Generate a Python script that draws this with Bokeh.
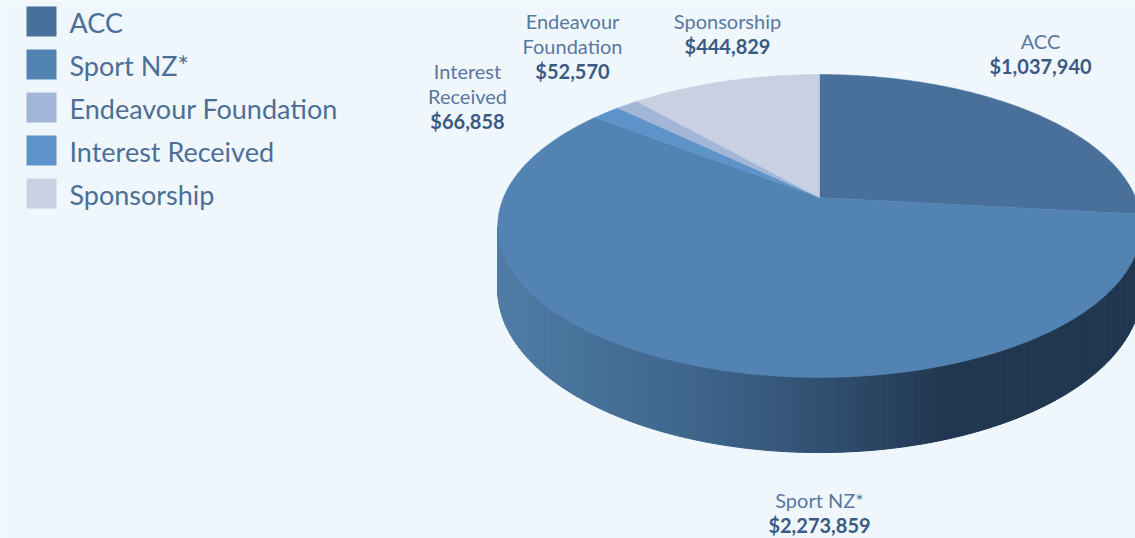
import math
from bokeh.plotting import figure
from bokeh.models import Range1d
from bokeh.embed import file_html
from bokeh.resources import INLINE
from bokeh.core.properties import value

# ---- data ----
categories = ["ACC", "Sport NZ*", "Endeavour Foundation", "Interest Received", "Sponsorship"]
amounts = [1037940, 2273859, 52570, 66858, 444829]
colors = ["#48709a", "#5283b3", "#a3b6d7", "#5d93c8", "#c8d0e2"]
# clockwise order of slices starting at 12 o'clock
slice_order = ["ACC", "Sport NZ*", "Interest Received", "Endeavour Foundation", "Sponsorship"]
label_lines = {
    "ACC": ["ACC"],
    "Sport NZ*": ["Sport NZ*"],
    "Endeavour Foundation": ["Endeavour", "Foundation"],
    "Interest Received": ["Interest", "Received"],
    "Sponsorship": ["Sponsorship"],
}

# ---- layout / style ----
BG = "#eff7fd"
FONT = "Lato"
CX, CY = 819.0, 197.0      # pie centre (screen px)
A, B, K, H = 316.0, 146.1, 0.188, 61.0
label_pos = {  # x centre, y of first line
    "ACC": (1040, 40),
    "Sport NZ*": (819, 499),
    "Endeavour Foundation": (572, 20),
    "Interest Received": (467, 70),
    "Sponsorship": (727, 20),
}
LINE_H = 25

W, Ht = 1135, 538
p = figure(width=W, height=Ht, output_backend="svg", toolbar_location=None,
           x_range=Range1d(0, W), y_range=Range1d(Ht, 0),
           min_border=0, outline_line_color=None,
           background_fill_color=BG, border_fill_color=BG)
p.axis.visible = False
p.grid.visible = False


def proj(theta_deg, bottom=False):
    t = math.radians(theta_deg)
    X, Y = math.sin(t), math.cos(t)
    w = 1 + K * Y
    x = CX + A * X / w
    y = CY - B * Y / w + (H / w if bottom else 0)
    return x, y


def lerp_color(x):
    stops = [(497, (80, 124, 166)), (600, (70, 112, 152)), (700, (62, 100, 138)),
             (800, (52, 84, 118)), (880, (42, 68, 98)), (945, (33, 55, 80)),
             (1145, (32, 55, 80))]
    if x <= stops[0][0]:
        c = stops[0][1]
    elif x >= stops[-1][0]:
        c = stops[-1][1]
    else:
        for (x0, c0), (x1, c1) in zip(stops[:-1], stops[1:]):
            if x0 <= x <= x1:
                f = (x - x0) / (x1 - x0)
                c = tuple(int(round(a + (b - a) * f)) for a, b in zip(c0, c1))
                break
    return "#%02x%02x%02x" % c


# ---- side wall (front arc between silhouette tangents) ----
t_right = math.degrees(math.acos(-K))          # ~100.8
t_left = 360 - t_right                          # ~259.2
N = 200
xs_list, ys_list, cols = [], [], []
for i in range(N):
    a0 = t_right + (t_left - t_right) * i / N
    a1 = t_right + (t_left - t_right) * (i + 1) / N
    p0t, p1t = proj(a0), proj(a1)
    p0b, p1b = proj(a0, True), proj(a1, True)
    xs_list.append([p0t[0], p1t[0], p1b[0], p0b[0]])
    ys_list.append([p0t[1], p1t[1], p1b[1], p0b[1]])
    cols.append(lerp_color((p0t[0] + p1t[0]) / 2))
p.patches(xs_list, ys_list, fill_color=cols, line_color=cols, line_width=1)

# ---- top face slices ----
total = float(sum(amounts))
start = 0.0
for name in slice_order:
    idx = categories.index(name)
    sweep = 360.0 * amounts[idx] / total
    n = max(4, int(sweep * 2))
    pts = [proj(start + sweep * j / n) for j in range(n + 1)]
    xs = [CX] + [q[0] for q in pts]
    ys = [CY] + [q[1] for q in pts]
    p.patch(xs, ys, fill_color=colors[idx], line_color=colors[idx], line_width=0.5)
    start += sweep

# ---- data labels ----
for name in categories:
    idx = categories.index(name)
    lx, ly = label_pos[name]
    lines = label_lines[name]
    for j, ln in enumerate(lines):
        p.text(x=[lx], y=[ly + j * LINE_H], text=[ln], text_align="center",
               text_baseline="middle", text_font=value(FONT), text_font_size="20px",
               text_color="#58789f")
    p.text(x=[lx], y=[ly + len(lines) * LINE_H], text=["${:,}".format(amounts[idx])],
           text_align="center", text_baseline="middle", text_font=value(FONT),
           text_font_size="20px", text_font_style="bold", text_color="#3a5a82")

# ---- legend ----
LEG_X, LEG_Y0, LEG_DY, SQ = 41, 21, 43, 30
for i, name in enumerate(categories):
    y = LEG_Y0 + i * LEG_DY
    p.rect(x=[LEG_X], y=[y], width=SQ, height=SQ, fill_color=colors[i], line_color=None)
    p.text(x=[LEG_X + 28], y=[y + 1], text=[name], text_align="left", text_baseline="middle",
           text_font=value(FONT), text_font_size="27px", text_color="#4d6e95")

html = file_html(p, INLINE)
open("out.html", "w").write(html)
